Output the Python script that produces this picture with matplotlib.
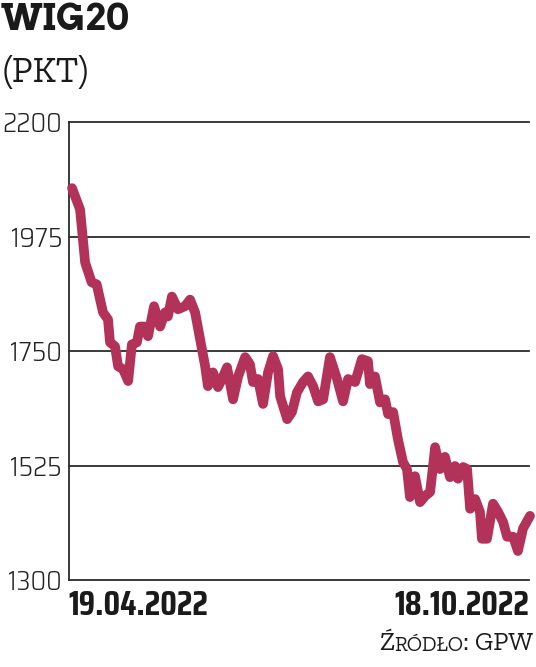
import matplotlib
matplotlib.use("Agg")
import matplotlib.pyplot as plt
from matplotlib import font_manager

# ---- data ----
days = [0, 3.2, 5.2, 7.8, 9.8, 12.3, 14.3, 15.1, 17.1, 18.3, 20.3, 22.3, 23.8, 25.8,
        27.0, 29.0, 30.2, 32.6, 35.0, 37.0, 38.1, 39.7, 42.1, 44.9, 46.9, 48.9, 50.9,
        52.9, 54.0, 56.0, 58.0, 59.6, 61.6, 64.0, 66.0, 68.8, 70.7, 71.9, 73.9, 75.9,
        77.9, 79.9, 81.9, 82.7, 85.5, 87.4, 89.4, 91.8, 93.8, 95.8, 97.8, 99.8, 102.5,
        105.3, 107.7, 109.7, 112.5, 115.2, 117.6, 118.4, 120.4, 122.4, 124.4, 125.6,
        127.6, 129.5, 131.5, 133.1, 134.3, 136.3, 138.3, 140.3, 142.3, 144.3, 146.2,
        148.2, 150.2, 152.2, 153.4, 155.4, 157.0, 158.2, 160.2, 162.1, 162.9, 164.9,
        167.3, 169.3, 171.3, 172.9, 175.3, 177.2, 179.2, 182]
values = [2070, 2028, 1924, 1885, 1881, 1826, 1812, 1767, 1759, 1720, 1714, 1691, 1763, 1767,
          1798, 1798, 1779, 1838, 1798, 1826, 1818, 1857, 1832, 1838, 1851, 1826, 1773,
          1720, 1681, 1708, 1679, 1695, 1718, 1655, 1700, 1738, 1724, 1689, 1695, 1646,
          1708, 1740, 1714, 1661, 1616, 1630, 1669, 1689, 1700, 1681, 1651, 1655, 1738,
          1695, 1651, 1695, 1689, 1734, 1730, 1685, 1700, 1649, 1655, 1626,
          1630, 1577, 1532, 1518, 1463, 1504, 1453, 1465, 1473, 1561, 1518,
          1542, 1502, 1524, 1499, 1522, 1518, 1440, 1459, 1434, 1381, 1381,
          1450, 1434, 1414, 1385, 1385, 1357, 1401, 1426]
y_ticks = [1300, 1525, 1750, 1975, 2200]
x_labels = ["19.04.2022", "18.10.2022"]
title = "WIG20"
unit = "(PKT)"

LINE = "#b3325a"
GRID = "#2b2b2b"
TXT = "#1a1a1a"

FONTS = font_manager.fontManager.ttflist
AVAIL = {f.name for f in FONTS}
def pick(names):
    for n in names:
        if n in AVAIL:
            return n
    return "DejaVu Sans"

def pick_bold(names):
    for n in names:
        if any(f.name == n and f.weight in (700, "bold") for f in FONTS):
            return n
    return "DejaVu Serif"

cond = pick(["Saira SemiCondensed", "Sofia Sans Condensed", "Barlow Semi Condensed",
             "Roboto Condensed", "DejaVu Sans"])
cond_bold = pick(["Saira Condensed", "Saira SemiCondensed", "Barlow Condensed",
                  "Roboto Condensed", "DejaVu Sans"])
title_font = pick_bold(["Bitter", "Arvo", "Aleo", "Roboto Slab", "Rokkitt", "Podkova",
                        "Noticia Text", "DejaVu Serif"])
slab = pick(["Zilla Slab", "DejaVu Serif"])

fig = plt.figure(figsize=(5.36, 6.67), dpi=100)
ax = fig.add_axes([69/536, 1 - 580/667, (529 - 69)/536, (580 - 122)/667])

for t in y_ticks:
    ax.axhline(t, color=GRID, lw=1.3, clip_on=False, zorder=1)

ax.plot(days, values, color=LINE, lw=7.0, solid_capstyle="round",
        solid_joinstyle="round", clip_on=False, zorder=3)

ax.set_xlim(-1.2, 181.6)
ax.set_ylim(1300, 2200)
for s in ["top", "right", "bottom"]:
    ax.spines[s].set_visible(False)
ax.spines["left"].set_color(GRID)
ax.spines["left"].set_linewidth(1.3)
ax.set_xticks([])
ax.set_yticks(y_ticks)
ax.set_yticklabels([str(t) for t in y_ticks], fontfamily=cond, fontweight=300,
                   fontsize=19.5, color="#222222")
ax.tick_params(axis="y", length=0, pad=5)

# date labels
ax.text(-0.002, -0.056, x_labels[0], transform=ax.transAxes, ha="left", va="center",
        fontfamily=cond_bold, fontweight="bold", fontsize=25, color=TXT)
ax.text(1.0, -0.056, x_labels[1], transform=ax.transAxes, ha="right", va="center",
        fontfamily=cond_bold, fontweight="bold", fontsize=25, color=TXT)

# title and unit
fig.text(1/536, 1 - 20/667, title, ha="left", va="center", fontfamily=title_font,
         fontweight="bold", fontsize=26, color=TXT)
fig.text(3/536, 1 - 73/667, unit, ha="left", va="center", fontfamily=slab,
         fontweight=400, fontsize=26, color=TXT)

# source in emulated small caps, chained right to left
t3 = fig.text(533/536, 1 - 650/667, ": GPW", ha="right", va="baseline",
              fontfamily=slab, fontsize=19, color=TXT)
t2 = ax.annotate("RÓDŁO", xy=(0, 0), xycoords=t3, ha="right", va="bottom",
                 fontfamily=slab, fontsize=15, color=TXT, annotation_clip=False)
t1 = ax.annotate("Ź", xy=(0, 0), xycoords=t2, ha="right", va="bottom",
                 fontfamily=slab, fontsize=19, color=TXT, annotation_clip=False)

fig.savefig("out.png", dpi=100)
